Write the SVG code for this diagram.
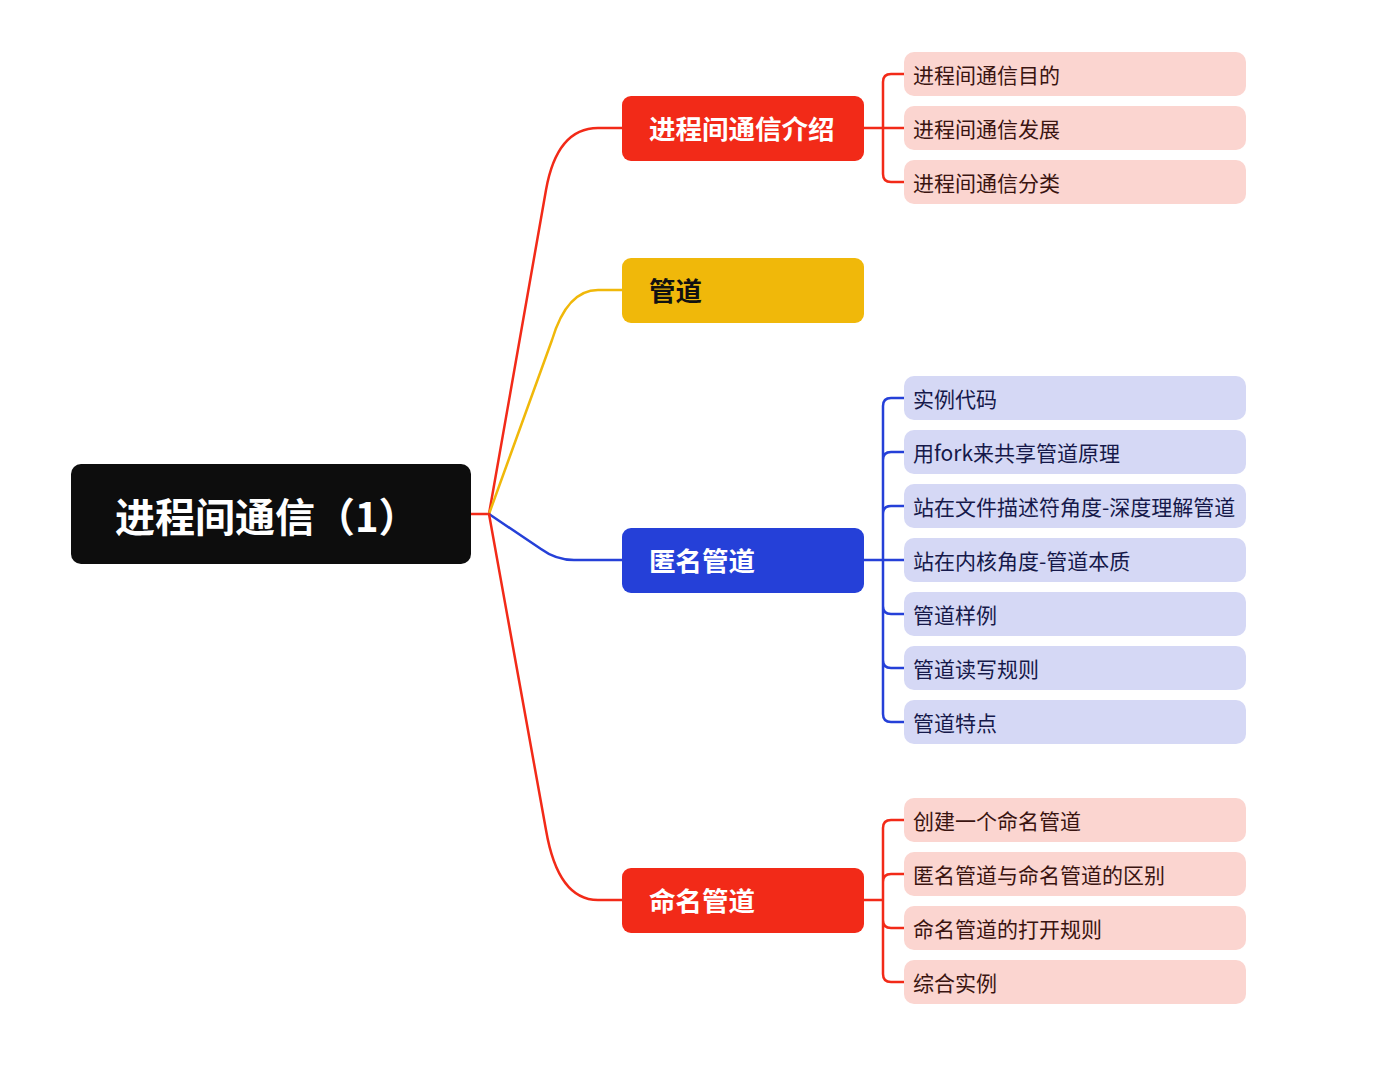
<svg xmlns="http://www.w3.org/2000/svg" width="1398" height="1069" viewBox="0 0 1398 1069">
<style>
.root{fill:#0d0d0d}
.rt{font-family:"Noto Sans CJK SC","Noto Sans",sans-serif;font-weight:bold;font-size:40px;fill:#fff}
.mt{font-family:"Noto Sans CJK SC","Noto Sans",sans-serif;font-weight:bold;font-size:26.5px}
.st{font-family:"Noto Sans CJK SC","Noto Sans",sans-serif;font-size:21px}
.red{fill:#f22a18}.yel{fill:#f0b80a}.blu{fill:#2540d8}
.pk{fill:#fbd5d0}.lv{fill:#d5d8f5}
.pkt{fill:#3a1410}.lvt{fill:#16194a}
.c{fill:none;stroke-width:2.5;stroke-linecap:round;stroke-linejoin:round}
</style>
<rect width="1398" height="1069" fill="#fff"/>
<g id="connectors">
<path class="c" stroke="#f22a18" d="M471,514 L489,514"/>
<path class="c" stroke="#f22a18" d="M489,514 L546,190 Q557,128 598,128 L622,128"/>
<path class="c" stroke="#f0b80a" d="M489,514 L552,340 Q567,290 598,290 L622,290"/>
<path class="c" stroke="#2540d8" d="M489,514 L541,549 Q556,560 574,560 L622,560"/>
<path class="c" stroke="#f22a18" d="M489,514 L546,830 Q558,900 598,900 L622,900"/>
<path class="c" stroke="#f22a18" d="M864,128 L904,128 M904,74 L891,74 Q883,74 883,82 L883,174 Q883,182 891,182 L904,182"/>
<path class="c" stroke="#2540d8" d="M864,560 L904,560 M904,398 L891,398 Q883,398 883,406 L883,714 Q883,722 891,722 L904,722 M904,452 L891,452 Q883,452 883,460 M904,506 L891,506 Q883,506 883,514 M904,614 L891,614 Q883,614 883,606 M904,668 L891,668 Q883,668 883,660"/>
<path class="c" stroke="#f22a18" d="M864,900 L883,900 M904,820 L891,820 Q883,820 883,828 L883,974 Q883,982 891,982 L904,982 M904,874 L891,874 Q883,874 883,882 M904,928 L891,928 Q883,928 883,920"/>
</g>
<g id="root"><rect class="root" x="71" y="464" width="400" height="100" rx="10"/><text class="rt" x="115" y="532">进程间通信（1）</text></g>
<g id="n1"><rect class="red" x="622" y="96" width="242" height="65" rx="9"/><text class="mt" x="649" y="139" fill="#fff">进程间通信介绍</text></g>
<g id="n2"><rect class="yel" x="622" y="258" width="242" height="65" rx="9"/><text class="mt" x="649" y="301" fill="#111">管道</text></g>
<g id="n3"><rect class="blu" x="622" y="528" width="242" height="65" rx="9"/><text class="mt" x="649" y="571" fill="#fff">匿名管道</text></g>
<g id="n4"><rect class="red" x="622" y="868" width="242" height="65" rx="9"/><text class="mt" x="649" y="911" fill="#fff">命名管道</text></g>
<g id="s1"><rect class="pk" x="904" y="52" width="342" height="44" rx="10"/><text class="st pkt" x="913" y="83">进程间通信目的</text></g>
<g id="s2"><rect class="pk" x="904" y="106" width="342" height="44" rx="10"/><text class="st pkt" x="913" y="137">进程间通信发展</text></g>
<g id="s3"><rect class="pk" x="904" y="160" width="342" height="44" rx="10"/><text class="st pkt" x="913" y="191">进程间通信分类</text></g>
<g id="b1"><rect class="lv" x="904" y="376" width="342" height="44" rx="10"/><text class="st lvt" x="913" y="407">实例代码</text></g>
<g id="b2"><rect class="lv" x="904" y="430" width="342" height="44" rx="10"/><text class="st lvt" x="913" y="461">用fork来共享管道原理</text></g>
<g id="b3"><rect class="lv" x="904" y="484" width="342" height="44" rx="10"/><text class="st lvt" x="913" y="515">站在文件描述符角度-深度理解管道</text></g>
<g id="b4"><rect class="lv" x="904" y="538" width="342" height="44" rx="10"/><text class="st lvt" x="913" y="569">站在内核角度-管道本质</text></g>
<g id="b5"><rect class="lv" x="904" y="592" width="342" height="44" rx="10"/><text class="st lvt" x="913" y="623">管道样例</text></g>
<g id="b6"><rect class="lv" x="904" y="646" width="342" height="44" rx="10"/><text class="st lvt" x="913" y="677">管道读写规则</text></g>
<g id="b7"><rect class="lv" x="904" y="700" width="342" height="44" rx="10"/><text class="st lvt" x="913" y="731">管道特点</text></g>
<g id="m1"><rect class="pk" x="904" y="798" width="342" height="44" rx="10"/><text class="st pkt" x="913" y="829">创建一个命名管道</text></g>
<g id="m2"><rect class="pk" x="904" y="852" width="342" height="44" rx="10"/><text class="st pkt" x="913" y="883">匿名管道与命名管道的区别</text></g>
<g id="m3"><rect class="pk" x="904" y="906" width="342" height="44" rx="10"/><text class="st pkt" x="913" y="937">命名管道的打开规则</text></g>
<g id="m4"><rect class="pk" x="904" y="960" width="342" height="44" rx="10"/><text class="st pkt" x="913" y="991">综合实例</text></g>
</svg>
